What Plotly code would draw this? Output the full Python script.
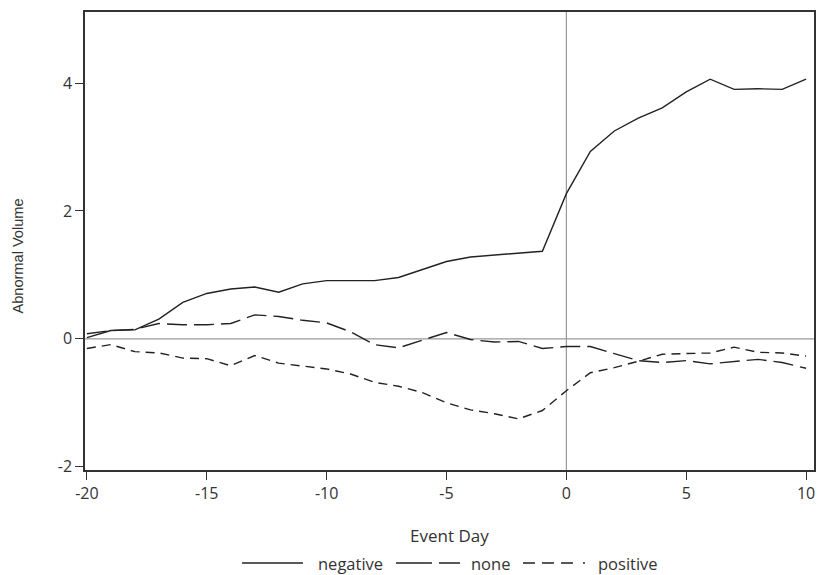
import plotly.graph_objects as go

days = list(range(-20, 11))
negative = [0.02, 0.13, 0.14, 0.31, 0.57, 0.71, 0.78, 0.81, 0.73, 0.86, 0.91,
            0.91, 0.91, 0.96, 1.08, 1.21, 1.28, 1.31, 1.35, 1.37, 2.27,
            2.93, 3.25, 3.45, 3.61, 3.86, 4.06, 3.90, 3.91, 3.90, 4.06]
none = [0.08, 0.13, 0.15, 0.24, 0.22, 0.22, 0.24, 0.375, 0.35, 0.29, 0.25,
        0.11, -0.09, -0.14, -0.02, 0.10, -0.01, -0.05, -0.04, -0.15, -0.12,
        -0.12, -0.23, -0.34, -0.37, -0.34, -0.39, -0.35, -0.32, -0.37, -0.46]
positive = [-0.15, -0.09, -0.20, -0.22, -0.30, -0.31, -0.42, -0.26, -0.38, -0.42, -0.47,
            -0.55, -0.68, -0.74, -0.84, -1.00, -1.11, -1.17, -1.25, -1.12, -0.81,
            -0.53, -0.45, -0.35, -0.24, -0.23, -0.22, -0.13, -0.21, -0.22, -0.27]

series_names = ["negative", "none", "positive"]
x_ticks = [-20, -15, -10, -5, 0, 5, 10]
y_ticks = [-2, 0, 2, 4]

FONT = "Open Sans"
LC = "#222222"
TXT = "#333333"
DASHES = ["solid", "20px,7px", "9px,6px"]
LEGEND_DASHES = ["solid", "36px,7px", "12px,7px,12px,7px,12px,10px,2px,10px"]

fig = go.Figure()
for name, vals, dash in zip(series_names, [negative, none, positive], DASHES):
    fig.add_trace(go.Scatter(x=days, y=vals, mode="lines", name=name, showlegend=False,
                             line=dict(color=LC, width=1.4, dash=dash)))

# reference lines at x=0 and y=0
fig.add_shape(type="line", xref="x", yref="paper", x0=0, x1=0, y0=0, y1=1,
              line=dict(color="#999999", width=1.2), layer="below")
fig.add_shape(type="line", xref="paper", yref="y", x0=0, x1=1, y0=0, y1=0,
              line=dict(color="#999999", width=1.2), layer="below")

# legend (drawn below the plot, paper coordinates)
leg_y = -0.2031
leg_lines = [(0.2154, 0.2990), (0.4266, 0.5144), (0.6008, 0.6900)]
leg_text_x = [0.3182, 0.5281, 0.7023]
for name, (x0, x1), tx, dash in zip(series_names, leg_lines, leg_text_x, LEGEND_DASHES):
    fig.add_shape(type="line", xref="paper", yref="paper", x0=x0, x1=x1, y0=leg_y, y1=leg_y,
                  line=dict(color=LC, width=1.4, dash=dash))
    fig.add_annotation(text=name, xref="paper", yref="paper", x=tx, y=leg_y,
                       xanchor="left", yanchor="middle", showarrow=False, borderpad=0,
                       font=dict(family=FONT, size=16.5, color=TXT))

# axis titles
fig.add_annotation(text="Event Day", xref="paper", yref="paper", x=0.5, y=-0.142,
                   xanchor="center", yanchor="middle", showarrow=False,
                   font=dict(family=FONT, size=17, color=TXT))
fig.add_annotation(text="Abnormal Volume", xref="paper", yref="paper", x=-0.092, y=0.468,
                   xanchor="center", yanchor="middle", showarrow=False, textangle=-90,
                   font=dict(family="Liberation Sans", size=14.6, color=TXT))

fig.update_layout(
    width=818, height=575,
    margin=dict(l=85, r=4, t=12, b=105),
    paper_bgcolor="white", plot_bgcolor="white",
    font=dict(family=FONT, size=16, color=TXT),
    showlegend=False,
)
fig.update_xaxes(range=[-20.08, 10.33], tickvals=x_ticks, ticktext=[str(v) for v in x_ticks],
                 showgrid=False, zeroline=False, showline=True, linecolor="#333333",
                 linewidth=1.5, mirror=True, ticks="outside", ticklen=8, tickcolor="#333333",
                 automargin=False, tickfont=dict(size=16))
fig.update_yaxes(range=[-2.05, 5.11], tickvals=y_ticks, ticktext=[str(v) for v in y_ticks],
                 showgrid=False, zeroline=False, showline=True, linecolor="#333333",
                 linewidth=1.5, mirror=True, ticks="outside", ticklen=8, tickcolor="#333333",
                 automargin=False, tickfont=dict(size=16))

fig.write_html("out.html", config={"displayModeBar": False},
               post_script="document.body.style.margin='0px';")
